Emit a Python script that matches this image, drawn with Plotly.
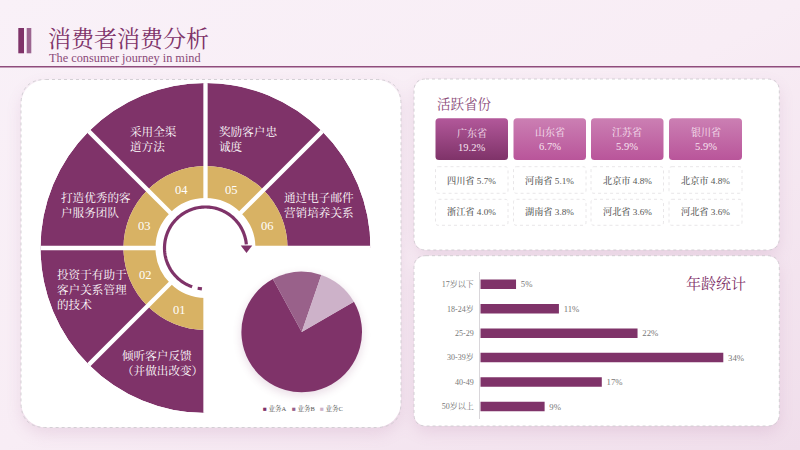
import base64
import numpy as np
import plotly.graph_objects as go

# ---------- data ----------
step_numbers = ["01", "02", "03", "04", "05", "06"]
step_theta = [202.5, 247.5, 292.5, 337.5, 22.5, 67.5]
step_width = [45, 45, 45, 45, 45, 45]
ring_r = [32, 32, 32, 32, 32, 32]
outer_r = [83, 83, 83, 83, 83, 83]
step_labels = [
    "倾听客户反馈<br>（并做出改变）",
    "投资于有助于<br>客户关系管理<br>的技术",
    "打造优秀的客<br>户服务团队",
    "采用全渠<br>道方法",
    "奖励客户忠<br>诚度",
    "通过电子邮件<br>营销培养关系",
]
pie_labels = ["业务A", "业务B", "业务C"]
pie_values = [75.4, 13.2, 11.4]
age_labels = ["17岁以下", "18-24岁", "25-29", "30-39岁", "40-49", "50岁以上"]
age_values = [5, 11, 22, 34, 17, 9]
top_provinces = ["广东省", "山东省", "江苏省", "银川省"]
top_shares = ["19.2%", "6.7%", "5.9%", "5.9%"]
row2 = ["四川省 5.7%", "河南省 5.1%", "北京市 4.8%", "北京市 4.8%"]
row3 = ["浙江省 4.0%", "湖南省 3.8%", "河北省 3.6%", "河北省 3.6%"]

# ---------- style ----------
W, H = 800, 450
PURPLE = "#7F3369"
GOLD = "#D8B264"
SERIF = "'Liberation Serif','Noto Serif CJK SC','Noto Sans CJK SC',serif"
col_x = [(435.5, 508), (513.5, 586), (591, 663.5), (669, 742)]


def X(v):
    return v / W


def Y(v):
    return 1 - v / H


def rrect(x0, y0, x1, y1, r):
    return (
        f"M{X(x0+r)},{Y(y0)} L{X(x1-r)},{Y(y0)} Q{X(x1)},{Y(y0)} {X(x1)},{Y(y0+r)} "
        f"L{X(x1)},{Y(y1-r)} Q{X(x1)},{Y(y1)} {X(x1-r)},{Y(y1)} "
        f"L{X(x0+r)},{Y(y1)} Q{X(x0)},{Y(y1)} {X(x0)},{Y(y1-r)} "
        f"L{X(x0)},{Y(y0+r)} Q{X(x0)},{Y(y0)} {X(x0+r)},{Y(y0)} Z"
    )


def card(x0, y0, x1, y1, r, line="#CFCCD0", width=0.9):
    return dict(type="path", path=rrect(x0, y0, x1, y1, r), xref="paper", yref="paper",
                fillcolor="rgba(0,0,0,0)", layer="below",
                line=dict(color=line, width=width, dash="dot"))


def label(x, y, text, size, color, xanchor="left", align=None, weight=None):
    return dict(x=X(x), y=Y(y), xref="paper", yref="paper", text=text, showarrow=False,
                xanchor=xanchor, yanchor="middle", align=align or xanchor, borderpad=0, borderwidth=0,
                font=dict(family=SERIF, size=size, color=color, weight=weight or 400))


# ---------- decorative background image (gradient, soft shadows, filled cards and tiles) ----------
def tile_rect(i, fid):
    a, b = col_x[i]
    return f'<rect x="{a}" y="118.3" width="{b-a}" height="41.7" rx="3.5" fill="url(#{fid})"/>'


svg = f'''<svg xmlns="http://www.w3.org/2000/svg" width="{W}" height="{H}" viewBox="0 0 {W} {H}">
<defs>
<linearGradient id="bg" x1="0" y1="0" x2="1" y2="1">
<stop offset="0" stop-color="#F9F1F8"/><stop offset="0.5" stop-color="#F8EDF5"/><stop offset="1" stop-color="#F0DEEB"/></linearGradient>
<linearGradient id="t1" x1="0" y1="0" x2="0" y2="1"><stop offset="0" stop-color="#B2589A"/><stop offset="1" stop-color="#7F3369"/></linearGradient>
<linearGradient id="t2" x1="0" y1="0" x2="0" y2="1"><stop offset="0" stop-color="#CB7FB3"/><stop offset="1" stop-color="#B9559A"/></linearGradient>
<filter id="b" x="-20%" y="-20%" width="140%" height="140%"><feGaussianBlur stdDeviation="8"/></filter>
<filter id="p" x="-20%" y="-20%" width="140%" height="140%"><feGaussianBlur stdDeviation="4"/></filter>
</defs>
<rect width="{W}" height="{H}" fill="url(#bg)"/>
<g fill="#9A4F87" opacity="0.14" filter="url(#b)">
<rect x="21" y="86" width="380" height="348" rx="25"/>
<rect x="414" y="85" width="365" height="171" rx="12"/>
<rect x="414" y="262" width="365" height="170" rx="12"/>
</g>
<g fill="#FFFFFF">
<rect x="21" y="79.5" width="380" height="348" rx="25"/>
<rect x="414" y="79" width="365.3" height="171" rx="12"/>
<rect x="414" y="255.7" width="365.3" height="170.3" rx="12"/>
</g>
<circle cx="301.7" cy="335" r="61" fill="#7F3369" opacity="0.16" filter="url(#p)"/>
{tile_rect(0,"t1")}{tile_rect(1,"t2")}{tile_rect(2,"t2")}{tile_rect(3,"t2")}
</svg>'''
bg_uri = "data:image/svg+xml;base64," + base64.b64encode(svg.encode()).decode()

fig = go.Figure()

# ---------- wheel ----------
fig.add_trace(go.Barpolar(theta=step_theta, r=outer_r, width=step_width, base=82,
                          marker=dict(color=PURPLE, line=dict(width=0)),
                          showlegend=False, hoverinfo="skip"))
fig.add_trace(go.Barpolar(theta=step_theta, r=ring_r, width=step_width, base=50,
                          marker=dict(color=GOLD, line=dict(width=0)),
                          showlegend=False, hoverinfo="skip"))
divider_theta, divider_r = [], []
for t in [180, 225, 270, 315, 0, 45, 90]:
    divider_theta += [t, t, None]
    divider_r += [49, 166, None]
fig.add_trace(go.Scatterpolar(theta=divider_theta, r=divider_r, mode="lines",
                              line=dict(color="#FFFFFF", width=4.3),
                              showlegend=False, hoverinfo="skip"))
arc_theta = np.arange(199, 447, 2.0)
fig.add_trace(go.Scatterpolar(theta=arc_theta, r=np.full(arc_theta.shape, 41.0), mode="lines",
                              line=dict(color=PURPLE, width=3.2),
                              showlegend=False, hoverinfo="skip"))
fig.add_trace(go.Scatterpolar(theta=[185, 191], r=[41, 41], mode="lines",
                              line=dict(color=PURPLE, width=3.2),
                              showlegend=False, hoverinfo="skip"))
fig.add_trace(go.Scatterpolar(theta=[90], r=[41], mode="markers",
                              marker=dict(symbol="triangle-down", size=10, color=PURPLE),
                              showlegend=False, hoverinfo="skip"))

# ---------- pie ----------
pie_cx, pie_cy, pie_r = 301.7, 332, 60.3
fig.add_trace(go.Pie(labels=pie_labels, values=pie_values, sort=False, direction="clockwise",
                     rotation=60, textinfo="none", showlegend=False, hoverinfo="label+percent",
                     marker=dict(colors=[PURPLE, "#99618A", "#CDB2C9"], line=dict(width=0)),
                     domain=dict(x=[X(pie_cx - pie_r), X(pie_cx + pie_r)],
                                 y=[Y(pie_cy + pie_r), Y(pie_cy - pie_r)])))

# ---------- bars ----------
fig.add_trace(go.Bar(x=age_values, y=age_labels, orientation="h", width=0.39,
                     marker=dict(color=PURPLE, line=dict(width=0)),
                     text=[f"\u2009{v}%" for v in age_values], textposition="outside",
                     textfont=dict(family=SERIF, size=11, color="#777777"),
                     cliponaxis=False, showlegend=False, xaxis="x", yaxis="y"))

px_per_unit = 243 / 34
x_left, x_right = 480.3, 770
fig.update_layout(
    width=W, height=H, autosize=False,
    margin=dict(l=0, r=0, t=0, b=0),
    paper_bgcolor="rgba(0,0,0,0)", plot_bgcolor="rgba(0,0,0,0)",
    font=dict(family=SERIF),
    xaxis=dict(domain=[X(x_left), X(x_right)], range=[0, (x_right - x_left) / px_per_unit],
               visible=False, fixedrange=True),
    yaxis=dict(domain=[Y(418.6), Y(272.1)], categoryorder="array", categoryarray=age_labels,
               autorange="reversed", showgrid=False, ticks="", showline=True,
               linecolor="#D9D6DA", linewidth=1, fixedrange=True, ticklabelstandoff=4,
               tickfont=dict(family=SERIF, size=8, color="#777777")),
    polar=dict(domain=dict(x=[X(205.5 - 165), X(205.5 + 165)], y=[Y(248 + 165), Y(248 - 165)]),
               bgcolor="rgba(0,0,0,0)", barmode="overlay",
               radialaxis=dict(visible=False, range=[0, 165]),
               angularaxis=dict(visible=False, direction="clockwise", rotation=90)),
)

# ---------- shapes ----------
shapes = [
    dict(type="rect", xref="paper", yref="paper", x0=X(18.3), x1=X(24), y0=Y(53.3), y1=Y(28),
         fillcolor=PURPLE, line=dict(width=0), layer="below"),
    dict(type="rect", xref="paper", yref="paper", x0=X(26.7), x1=X(31.3), y0=Y(53.3), y1=Y(28),
         fillcolor="#9C6590", line=dict(width=0), layer="below"),
    dict(type="line", xref="paper", yref="paper", x0=0, x1=1, y0=Y(66.7), y1=Y(66.7),
         line=dict(color="#8F4C7C", width=1.4), layer="below"),
    card(21, 79.5, 401, 427.5, 25),
    card(414, 79, 779.3, 250, 12),
    card(414, 255.7, 779.3, 426, 12),
]
for a, b in col_x:
    shapes.append(card(a, 166.7, b, 193.3, 3, line="#E2E0E2", width=0.8))
    shapes.append(card(a, 199.3, b, 225.3, 3, line="#E2E0E2", width=0.8))
fig.update_layout(shapes=shapes)

fig.update_layout(images=[
    dict(source=bg_uri, xref="paper", yref="paper", x=0, y=1, sizex=1, sizey=1,
         xanchor="left", yanchor="top", sizing="stretch", layer="below"),
])

# ---------- annotations ----------
ann = [
    label(48, 39, "消费者消费分析", 23, PURPLE),
    label(49, 58, "The consumer journey in mind", 12.3, "#8A4A78"),
    label(437, 104, "活跃省份", 13.5, "#8A4A78"),
    label(686, 283, "年龄统计", 15, PURPLE),
]
num_pos = [(179, 310), (145, 275), (144, 226), (181, 190), (231, 190), (267, 226)]
for (x, y), n in zip(num_pos, step_numbers):
    ann.append(label(x, y, n, 12.5, "#FFFFFF", xanchor="center"))
text_pos = [(122, 363, "left"), (57, 290, "left"), (61, 205.5, "left"),
            (130, 139, "left"), (219, 139, "left"), (284, 205.5, "left")]
for (x, y, anc), t in zip(text_pos, step_labels):
    ann.append(label(x, y, t, 11.6, "#FFFFFF", xanchor=anc))
for (a, b), p, s, d in zip(col_x, top_provinces, top_shares, [1, 0, 0, 0]):
    c = (a + b) / 2
    ann.append(label(c, 132 + d, p, 10, "#F7E3F0", xanchor="center"))
    ann.append(label(c, 146 + d, s, 10.5, "#F7E3F0", xanchor="center"))
for (a, b), t2, t3 in zip(col_x, row2, row3):
    c = (a + b) / 2
    ann.append(label(c, 180, t2, 9.2, "#555555", xanchor="center", weight=500))
    ann.append(label(c, 212, t3, 9.2, "#555555", xanchor="center", weight=500))
for x, name, col in zip([263, 291.5, 320], pie_labels, [PURPLE, "#99618A", "#CDB2C9"]):
    ann.append(label(x, 408, f'<span style="color:{col}">■</span> {name}', 6.5, "#555555"))
fig.update_layout(annotations=ann)

fig.write_html("out.html", config={"displayModeBar": False},
               post_script="document.body.style.margin='0';")
